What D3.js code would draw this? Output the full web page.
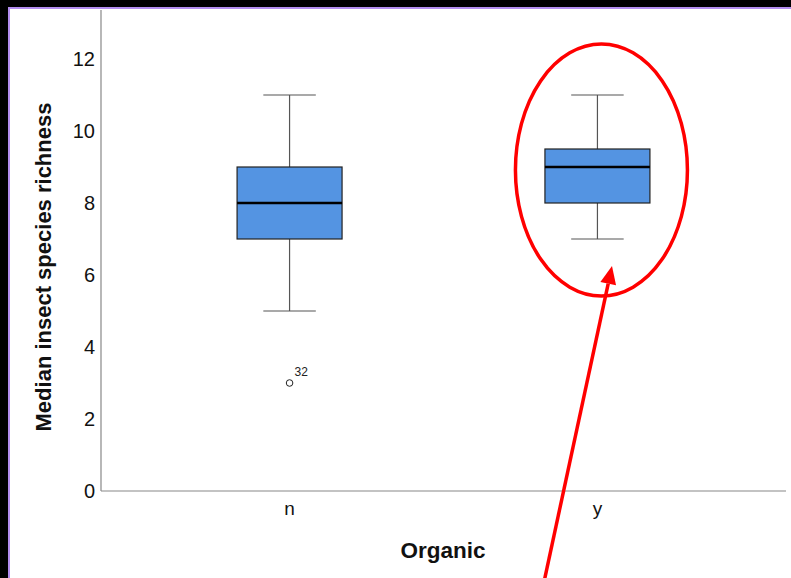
<!DOCTYPE html>
<html>
<head>
<meta charset="utf-8">
<script src="https://cdn.jsdelivr.net/npm/d3@7"></script>
<style>
  html, body { margin: 0; padding: 0; background: #000; }
  svg { display: block; }
</style>
</head>
<body>
<script>
// Box plot summaries per group (Organic: n / y)
const categories = ["n", "y"];
const whiskerLow  = [5, 7];
const quartile1   = [7, 8];
const medians     = [8, 9];
const quartile3   = [9, 9.5];
const whiskerHigh = [11, 11];
const outliers    = [{ group: "n", value: 3, label: "32" }];
const yTicks      = [0, 2, 4, 6, 8, 10, 12];

const W = 791, H = 578;
const svg = d3.select("body").append("svg").attr("width", W).attr("height", H);

// black surround and white panel with lilac edge
svg.append("rect").attr("width", W).attr("height", H).attr("fill", "#000");
svg.append("rect").attr("x", 9).attr("y", 8).attr("width", W).attr("height", H)
  .attr("fill", "#fff").attr("stroke", "#b48ef0").attr("stroke-width", 2);

const plot = { left: 101, right: 786, top: 10, bottom: 491 };

const y = d3.scaleLinear().domain([0, 12]).range([plot.bottom, plot.bottom - 432]);
const x = d3.scaleBand().domain(categories).range([plot.left, plot.right])
  .paddingInner(0.659).paddingOuter(0.442);

const font = "'Liberation Sans', Arial, sans-serif";

// axes
svg.append("line").attr("x1", plot.left).attr("x2", plot.left)
  .attr("y1", plot.top).attr("y2", plot.bottom).attr("stroke", "#888").attr("stroke-width", 1.2);
svg.append("line").attr("x1", plot.left).attr("x2", plot.right)
  .attr("y1", plot.bottom).attr("y2", plot.bottom).attr("stroke", "#888").attr("stroke-width", 1.2);

const yAxis = d3.axisLeft(y).tickValues(yTicks).tickSize(0).tickPadding(6);
const gy = svg.append("g").attr("transform", `translate(${plot.left},0)`).call(yAxis);
gy.select(".domain").remove();
gy.selectAll("text").attr("font-family", font).attr("font-size", 20).attr("fill", "#111");

const xAxis = d3.axisBottom(x).tickSize(0).tickPadding(11);
const gx = svg.append("g").attr("transform", `translate(0,${plot.bottom})`).call(xAxis);
gx.select(".domain").remove();
gx.selectAll("text").attr("font-family", font).attr("font-size", 19).attr("fill", "#111");

// axis titles
svg.append("text").attr("x", 443).attr("y", 558).attr("text-anchor", "middle")
  .attr("font-family", font).attr("font-size", 22.5).attr("font-weight", "bold").attr("fill", "#111")
  .text("Organic");
svg.append("text").attr("transform", "translate(51,267) rotate(-90)").attr("text-anchor", "middle")
  .attr("font-family", font).attr("font-size", 22).attr("font-weight", "bold").attr("fill", "#111")
  .text("Median insect species richness");

// boxes
categories.forEach((c, i) => {
  const x0 = x(c), bw = x.bandwidth(), cx = x0 + bw / 2, capW = bw / 2;
  const g = svg.append("g");
  g.append("line").attr("x1", cx).attr("x2", cx).attr("y1", y(whiskerHigh[i])).attr("y2", y(quartile3[i]))
    .attr("stroke", "#555").attr("stroke-width", 1.2);
  g.append("line").attr("x1", cx).attr("x2", cx).attr("y1", y(quartile1[i])).attr("y2", y(whiskerLow[i]))
    .attr("stroke", "#555").attr("stroke-width", 1.2);
  [whiskerHigh[i], whiskerLow[i]].forEach(v => {
    g.append("line").attr("x1", cx - capW / 2).attr("x2", cx + capW / 2).attr("y1", y(v)).attr("y2", y(v))
      .attr("stroke", "#555").attr("stroke-width", 1.2);
  });
  g.append("rect").attr("x", x0).attr("width", bw)
    .attr("y", y(quartile3[i])).attr("height", y(quartile1[i]) - y(quartile3[i]))
    .attr("fill", "#5494e2").attr("stroke", "#222").attr("stroke-width", 1.2);
  g.append("line").attr("x1", x0).attr("x2", x0 + bw).attr("y1", y(medians[i])).attr("y2", y(medians[i]))
    .attr("stroke", "#000").attr("stroke-width", 2.4);
});

// outliers
outliers.forEach(o => {
  const cx = x(o.group) + x.bandwidth() / 2;
  svg.append("circle").attr("cx", cx).attr("cy", y(o.value)).attr("r", 3.3)
    .attr("fill", "#fff").attr("stroke", "#222").attr("stroke-width", 1);
  svg.append("text").attr("x", cx + 5).attr("y", y(o.value) - 7)
    .attr("font-family", font).attr("font-size", 12).attr("fill", "#222").text(o.label);
});

// highlight ellipse around the organic group and pointing arrow
const hx = x("y") + x.bandwidth() / 2 + 4;
svg.append("ellipse").attr("cx", hx).attr("cy", 170).attr("rx", 86).attr("ry", 126)
  .attr("fill", "none").attr("stroke", "#f00").attr("stroke-width", 3.5);

const tip = [612, 266], tail = [544, 582];
const ang = Math.atan2(tip[1] - tail[1], tip[0] - tail[0]);
const hl = 18, hw = 8;
const base = [tip[0] - hl * Math.cos(ang), tip[1] - hl * Math.sin(ang)];
svg.append("line").attr("x1", tail[0]).attr("y1", tail[1]).attr("x2", base[0]).attr("y2", base[1])
  .attr("stroke", "#f00").attr("stroke-width", 3.5);
svg.append("path").attr("fill", "#f00").attr("d", d3.line()([
  tip,
  [base[0] + hw * Math.sin(ang), base[1] - hw * Math.cos(ang)],
  [base[0] - hw * Math.sin(ang), base[1] + hw * Math.cos(ang)]
]));
</script>
</body>
</html>
